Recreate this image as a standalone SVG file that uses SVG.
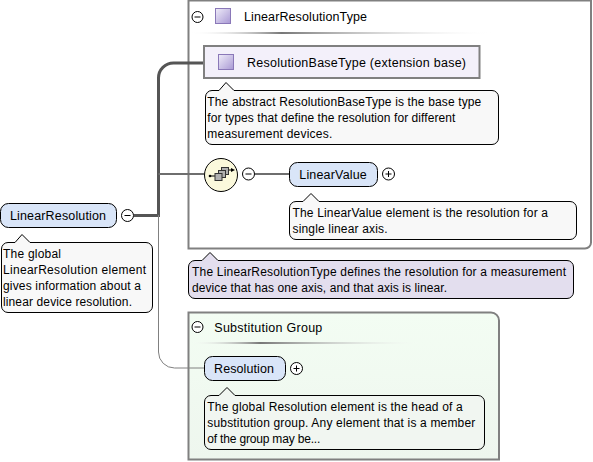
<svg xmlns="http://www.w3.org/2000/svg" width="593" height="462" viewBox="0 0 593 462">
<defs>
<linearGradient id="sep"><stop offset="0" stop-color="#fff" stop-opacity="0"/><stop offset=".3" stop-color="#777"/><stop offset="1" stop-color="#fff" stop-opacity="0"/></linearGradient>
<linearGradient id="sq" x1="0" y1="0" x2="1" y2="1"><stop offset="0" stop-color="#f0edf9"/><stop offset="1" stop-color="#a898d4"/></linearGradient>
<linearGradient id="gf" x1="0" y1="0" x2="0" y2="1"><stop offset="0" stop-color="#f3fdf3"/><stop offset="1" stop-color="#eef6ee"/></linearGradient>
</defs>
<style>
text{font-family:"Liberation Sans",Arial,sans-serif;font-size:12px;fill:#000}
.lb{font-size:12.500px}
.el{fill:#d9e5f8;stroke:#000;stroke-width:1}
.note{fill:#f8f8f8;stroke:#000;stroke-width:1}
.ty{fill:#e3deee;stroke:#000;stroke-width:1}
.btn{fill:#fff;stroke:#000;stroke-width:1}
.sym{fill:none;stroke:#000;stroke-width:1}
.c1{fill:none;stroke:#808080;stroke-width:1}
.c2{fill:none;stroke:#6e6e6e;stroke-width:2}
.c3{fill:none;stroke:#555;stroke-width:3}
.sq{fill:url(#sq);stroke:#8a78b8;stroke-width:1}
</style>
<g id="type-LinearResolutionType">
<path d="M188.500 0.500V248.500H585a6 6 0 0 0 6-6V0.500Z" fill="#fff" stroke="#808080" stroke-width="2"/>
<circle class="btn" cx="197.500" cy="17" r="5.500"/><path class="sym" d="M194.500 17H200.500"/>
<rect class="sq" x="215.500" y="8.500" width="15" height="15"/>
<text class="lb" x="244" y="21" textLength="123">LinearResolutionType</text>
<rect x="190" y="32" width="305" height="2" fill="url(#sep)"/>
</g>
<g id="group-substitution">
<path d="M188.500 312.500H491a8 8 0 0 1 8 8V459.500H188.500Z" fill="url(#gf)" stroke="#808080" stroke-width="2"/>
<circle class="btn" cx="197.500" cy="327" r="5.500"/><path class="sym" d="M194.500 327H200.500"/>
<text class="lb" x="214.300" y="332" textLength="108">Substitution Group</text>
<rect x="190" y="342" width="235" height="2" fill="url(#sep)"/>
</g>
<g id="connectors">
<path class="c3" d="M134 215.500H158.500V78a15 15 0 0 1 15-15H204"/>
<path class="c2" d="M158.500 174H204"/>
<path class="c2" d="M255 174H289"/>
<path class="c1" d="M158.500 215V352a16 16 0 0 0 16 16H204"/>
</g>
<g id="node-LinearResolution">
<rect class="el" x="0.500" y="203.500" width="116" height="24" rx="8"/>
<text class="lb" x="10" y="220" textLength="96">LinearResolution</text>
<circle class="btn" cx="127.500" cy="215.500" r="6"/><path class="sym" d="M124.500 215.500H130.500"/>
</g>
<g id="note-LinearResolution">
<path class="note" d="M9 242.500H15L22 234.500L30 242.500H146a6.500 6.500 0 0 1 6.500 6.500V306a6.500 6.500 0 0 1-6.500 6.500H8a6.500 6.500 0 0 1-6.500-6.500V249a6.500 6.500 0 0 1 6.500-6.500Z"/>
<text x="3" y="258" textLength="58">The global</text>
<text x="3" y="274" textLength="143">LinearResolution element</text>
<text x="3" y="290" textLength="138">gives information about a</text>
<text x="3" y="306" textLength="129">linear device resolution.</text>
</g>
<g id="node-ResolutionBaseType">
<rect x="204" y="46" width="275.500" height="32" fill="#f3f0fa" stroke="#808080" stroke-width="2"/>
<rect class="sq" x="218.500" y="54.500" width="15" height="15"/>
<text class="lb" x="247" y="67" textLength="219">ResolutionBaseType (extension base)</text>
</g>
<g id="note-ResolutionBaseType">
<path class="note" d="M212 90.500H219L226 82.500L234 90.500H492a6.500 6.500 0 0 1 6.500 6.500V138a6.500 6.500 0 0 1-6.500 6.500H212a6.500 6.500 0 0 1-6.500-6.500V97a6.500 6.500 0 0 1 6.500-6.500Z"/>
<text x="207.300" y="106" textLength="274">The abstract ResolutionBaseType is the base type</text>
<text x="207.300" y="122" textLength="248">for types that define the resolution for different</text>
<text x="207.300" y="138" textLength="125">measurement devices.</text>
</g>
<g id="node-sequence">
<circle cx="221" cy="175" r="16.500" fill="#fbf9dc" stroke="#000"/>
<path d="M209.500 176H215M228 170H232" stroke="#000" fill="none"/>
<circle cx="210" cy="176" r="1.300"/><path d="M231 168L235 170L231 172Z"/>
<rect x="221.500" y="167.500" width="7" height="7" fill="#b0b0b0" stroke="#333"/>
<rect x="218.500" y="170.500" width="7" height="7" fill="#b0b0b0" stroke="#333"/>
<rect x="215" y="173.500" width="7" height="7" fill="#b0b0b0" stroke="#333"/>
<circle class="btn" cx="248.500" cy="174" r="6"/><path class="sym" d="M245.500 174H251.500"/>
</g>
<g id="node-LinearValue">
<rect class="el" x="289.500" y="162.500" width="88" height="24" rx="8"/>
<text class="lb" x="299.300" y="179" textLength="67.500">LinearValue</text>
<circle class="btn" cx="388.500" cy="174" r="6"/><path class="sym" d="M385.500 174H391.500M388.500 171V177"/>
</g>
<g id="note-LinearValue">
<path class="note" d="M296 201.500H303L311 193.500L319 201.500H570a6.500 6.500 0 0 1 6.500 6.500V233a6.500 6.500 0 0 1-6.500 6.500H296a6.500 6.500 0 0 1-6.500-6.500V208a6.500 6.500 0 0 1 6.500-6.500Z"/>
<text x="292.500" y="217" textLength="255.500">The LinearValue element is the resolution for a</text>
<text x="292.500" y="233" textLength="95">single linear axis.</text>
</g>
<g id="note-LinearResolutionType">
<path class="ty" d="M195 260.500H202L210 252.500L218 260.500H567a6.500 6.500 0 0 1 6.500 6.500V292a6.500 6.500 0 0 1-6.500 6.500H195a6.500 6.500 0 0 1-6.500-6.500V267a6.500 6.500 0 0 1 6.500-6.500Z"/>
<text x="192" y="276" textLength="374">The LinearResolutionType defines the resolution for a measurement</text>
<text x="192" y="292" textLength="255">device that has one axis, and that axis is linear.</text>
</g>
<g id="node-Resolution">
<rect class="el" x="204.500" y="356.500" width="81" height="24" rx="8"/>
<text class="lb" x="214" y="373" textLength="60">Resolution</text>
<circle class="btn" cx="296.500" cy="368.500" r="6"/><path class="sym" d="M293.500 368.500H299.500M296.500 365.500V371.500"/>
</g>
<g id="note-Resolution">
<path class="note" d="M211 395.500H219L227 387.500L235 395.500H478a6.500 6.500 0 0 1 6.500 6.500V443a6.500 6.500 0 0 1-6.500 6.500H211a6.500 6.500 0 0 1-6.500-6.500V402a6.500 6.500 0 0 1 6.500-6.500Z" style="fill:#f1f6f1"/>
<text x="207.300" y="411" textLength="255.500">The global Resolution element is the head of a</text>
<text x="207.300" y="427" textLength="268">substitution group. Any element that is a member</text>
<text x="207.300" y="443" textLength="113">of the group may be...</text>
</g>
</svg>
